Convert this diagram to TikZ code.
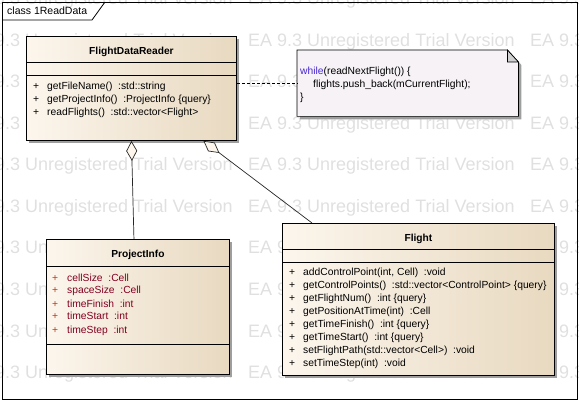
\documentclass[tikz,border=0pt]{standalone}
\usepackage{fontspec}
\setmainfont{Liberation Sans}
\usetikzlibrary{positioning,arrows.meta,shadows}
\definecolor{boxleft}{RGB}{252,246,237}
\definecolor{boxright}{RGB}{232,217,192}
\definecolor{notefill}{RGB}{246,242,246}
\definecolor{foldgray}{RGB}{208,208,208}
\definecolor{attrred}{RGB}{128,0,32}
\definecolor{plusred}{RGB}{190,60,20}
\definecolor{keyblue}{RGB}{72,40,210}
\definecolor{markgray}{RGB}{224,224,224}
\newcommand{\attrplus}{\textcolor{plusred}{+}}
\tikzset{class box/.style={draw,line width=0.9pt,left color=boxleft,right color=boxright,anchor=north west,inner sep=0pt,
    drop shadow={shadow xshift=3pt,shadow yshift=-3pt,fill=black!38,opacity=1}}}
\tikzset{class name/.style={anchor=base,inner sep=0pt,font=\fontsize{10.2}{12}\selectfont\bfseries}}
\tikzset{member list/.style={anchor=base west,inner sep=0pt,font=\fontsize{10.3}{13}\selectfont}}
\tikzset{part line/.style={line width=0.9pt}}
\tikzset{aggregation/.style={{Diamond[open,fill=boxleft,length=20pt,width=11pt]}-,line width=0.7pt,black!85}}
\tikzset{watermark/.style={anchor=base west,inner sep=0pt,text=markgray,font=\fontsize{18}{18}\selectfont}}

\begin{document}
\begin{tikzpicture}[x=1pt,y=-1pt]
            \useasboundingbox (0,0) rectangle (579,401);
            % trial watermark
            \begin{scope}
            \clip (0,0) rectangle (579,401);
            \foreach \row in {0,...,9}
            \foreach \col in {-1,0,1}
            \node[watermark] (wm-\row-\col) at (248+282*\col,41.5*\row+5) {EA 9.3 Unregistered Trial Version};
            \end{scope}

            % frame
            \draw[line width=0.8pt] (2,2) rectangle (577,399);
            \draw[line width=0.8pt] (2,20) -- (92,20) -- (105,2);
            \node[anchor=base west,inner sep=0pt,font=\fontsize{10.5}{12}\selectfont] (frame) at (7,15) {class 1ReadData};

            % classes
            \node[class box,minimum width=210pt,minimum height=104pt] (reader) at (26,36) {};
            \node[class box,minimum width=183pt,minimum height=135pt] (info) at (46,239) {};
            \node[class box,minimum width=272pt,minimum height=152pt] (flight) at (282,223) {};

            \node[class name] (reader-name) at ([yshift=-19pt]reader.north) {FlightDataReader};
            \node[class name] (info-name) at ([yshift=-19pt]info.north) {ProjectInfo};
            \node[class name] (flight-name) at ([yshift=-18pt]flight.north) {Flight};

            \draw[part line] ([yshift=-26pt]reader.north west) -- ([yshift=-26pt]reader.north east);
            \draw[part line] ([yshift=-39pt]reader.north west) -- ([yshift=-39pt]reader.north east);
            \draw[part line] ([yshift=-27pt]info.north west) -- ([yshift=-27pt]info.north east);
            \draw[part line] ([yshift=-105pt]info.north west) -- ([yshift=-105pt]info.north east);
            \draw[part line] ([yshift=-26pt]flight.north west) -- ([yshift=-26pt]flight.north east);
            \draw[part line] ([yshift=-39pt]flight.north west) -- ([yshift=-39pt]flight.north east);

            \node[member list] (reader-ops) at ([shift={(7pt,-54pt)}]reader.north west) {%
              \begin{tabular}[t]{@{}p{14pt}@{}l@{}}
              + & getFileName()\ \ :std::string\\
              + & getProjectInfo()\ \ :ProjectInfo \{query\}\\
              + & readFlights()\ \ :std::vector<Flight>
              \end{tabular}};
            \node[member list,text=attrred] (info-attrs) at ([shift={(6pt,-42pt)}]info.north west) {%
              \begin{tabular}[t]{@{}p{15pt}@{}l@{}}
              \attrplus & cellSize\ \ :Cell\\
              \attrplus & spaceSize\ \ :Cell\\
              \attrplus & timeFinish\ \ :int\\
              \attrplus & timeStart\ \ :int\\
              \attrplus & timeStep\ \ :int
              \end{tabular}};
            \node[member list] (flight-ops) at ([shift={(7pt,-53pt)}]flight.north west) {%
              \begin{tabular}[t]{@{}p{14pt}@{}l@{}}
              + & addControlPoint(int, Cell)\ \ :void\\
              + & getControlPoints()\ \ :std::vector<ControlPoint> \{query\}\\
              + & getFlightNum()\ \ :int \{query\}\\
              + & getPositionAtTime(int)\ \ :Cell\\
              + & getTimeFinish()\ \ :int \{query\}\\
              + & getTimeStart()\ \ :int \{query\}\\
              + & setFlightPath(std::vector<Cell>)\ \ :void\\
              + & setTimeStep(int)\ \ :void
              \end{tabular}};

            % note
            \node[anchor=north west,inner sep=0pt,minimum width=221pt,minimum height=66pt] (note) at (297,50) {};
            \fill[black!38] ([shift={(3pt,-3pt)}]note.north west) -- ([shift={(-8pt,-3pt)}]note.north east)
              -- ([shift={(3pt,-15pt)}]note.north east) -- ([shift={(3pt,-3pt)}]note.south east)
              -- ([shift={(3pt,-3pt)}]note.south west) -- cycle;
            \filldraw[fill=notefill,line width=0.7pt] (note.north west) -- ([xshift=-11pt]note.north east)
              -- ([yshift=-12pt]note.north east) -- (note.south east) -- (note.south west) -- cycle;
            \filldraw[fill=foldgray,line width=0.7pt] ([xshift=-11pt]note.north east)
              -- ([shift={(-11pt,-12pt)}]note.north east) -- ([yshift=-12pt]note.north east) -- cycle;
            \node[member list] (note-text) at ([shift={(3pt,-25pt)}]note.north west) {%
              \begin{tabular}[t]{@{}l@{}}
              \textcolor{keyblue}{while}(readNextFlight()) \{\\
              \hspace*{13pt}flights.push\_back(mCurrentFlight);\\
              \}
              \end{tabular}};

            % connectors
            \draw[dashed,dash pattern=on 3pt off 2pt,line width=0.7pt] (reader.east |- note.west) -- (note.west);
            \draw[aggregation] (reader.south) -- ([xshift=-4pt]info.north);
            \draw[aggregation] ([xshift=72pt]reader.south) -- ([xshift=30pt]flight.north west);
        \end{tikzpicture}
\end{document}
